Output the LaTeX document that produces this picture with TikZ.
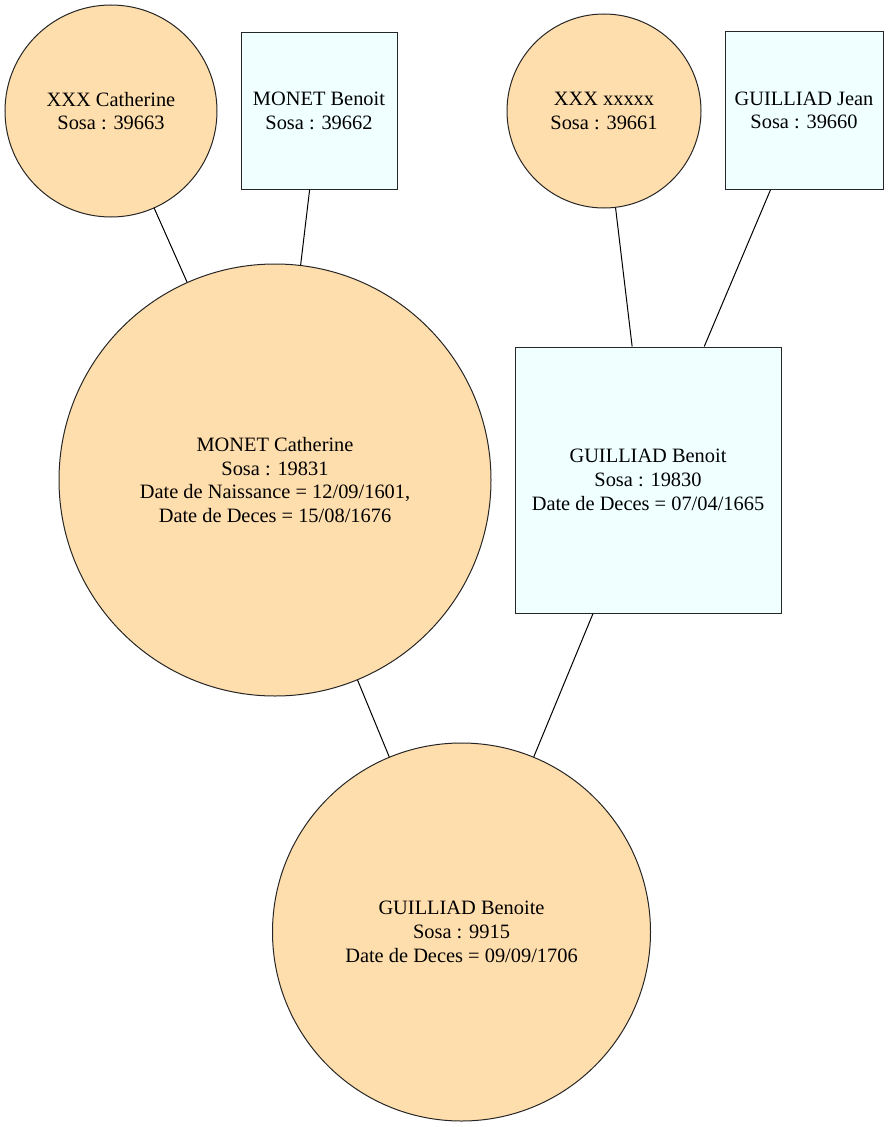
\documentclass[tikz,border=0pt]{standalone}
\usepackage{fontspec}
\setmainfont{Liberation Serif}
\definecolor{fem}{HTML}{FFDEAD}
\definecolor{masc}{HTML}{F0FFFF}
\begin{document}
\begin{tikzpicture}[x=0.75pt,y=-0.75pt,
  person/.style={draw=black!85,line width=0.75pt,align=center,inner sep=0pt,
    font=\fontsize{15.3}{17.8}\selectfont},
  female/.style={person,circle,fill=fem,minimum size=#1},
  male/.style={person,rectangle,fill=masc,minimum width=#1,minimum height=#1},
  link/.style={line width=0.75pt,black}]
\useasboundingbox (0,0) rectangle (889,1127);
\node[female=159pt] (xc) at (111,111) {XXX Catherine\\Sosa : 39663};
\node[male=117pt] (mb) at (319,111) {MONET Benoit\\Sosa : 39662};
\node[female=145.5pt] (xx) at (604,111) {XXX xxxxx\\Sosa : 39661};
\node[male=118.5pt] (gj) at (804,110.5) {GUILLIAD Jean\\Sosa : 39660};
\node[female=324pt] (mc) at (275,480) {MONET Catherine\\Sosa : 19831\\Date de Naissance = 12/09/1601,\\Date de Deces = 15/08/1676};
\node[male=199.5pt] (gb) at (648,480) {GUILLIAD Benoit\\Sosa : 19830\\Date de Deces = 07/04/1665};
\node[female=283.5pt] (gbe) at (461.5,932) {GUILLIAD Benoite\\Sosa : 9915\\Date de Deces = 09/09/1706};
\draw[link] (xc) -- (mc);
\draw[link] (mb) -- (mc);
\draw[link] (xx) -- (gb);
\draw[link] (gj) -- (gb);
\draw[link] (mc) -- (gbe);
\draw[link] (gb) -- (gbe);
\end{tikzpicture}
\end{document}
